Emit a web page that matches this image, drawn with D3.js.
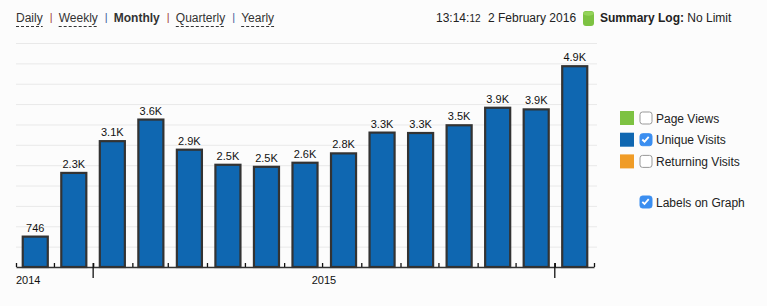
<!DOCTYPE html>
<html>
<head>
<meta charset="utf-8">
<script src="https://cdn.jsdelivr.net/npm/d3@7"></script>
<style>
  body { margin: 0; background: #fcfcfc; }
  svg { display: block; font-family: "Liberation Sans", Arial, sans-serif; }
</style>
</head>
<body>
<div id="chart"></div>
<script>
// monthly unique visits, Nov 2014 .. Jan 2016
const months = ["2014-11", "2014-12", "2015-01", "2015-02", "2015-03", "2015-04", "2015-05", "2015-06",
                "2015-07", "2015-08", "2015-09", "2015-10", "2015-11", "2015-12", "2016-01"];
const visits = [746, 2310, 3090, 3620, 2880, 2510, 2460, 2560, 2790, 3300, 3290, 3480, 3910, 3870, 4930];
const periods = ["Daily", "Weekly", "Monthly", "Quarterly", "Yearly"];
const legendItems = ["Page Views", "Unique Visits", "Returning Visits"];
const legendColors = ["#7dc242", "#0f67b1", "#f09c27"];
const legendChecked = [false, true, false];

const W = 767, H = 306;
const svg = d3.select("#chart").append("svg").attr("width", W).attr("height", H);

const parse = d3.timeParse("%Y-%m");
const dates = months.map(parse);
const start = dates[0];
const end = d3.timeMonth.offset(dates[dates.length - 1], 1);

const x = d3.scaleTime().domain([start, end]).range([16, 594]);
const xb = d3.scaleBand().domain(months).range([16, 594]).paddingInner(0.35).paddingOuter(0.175);
const y = d3.scaleLinear().domain([0, 5500]).range([267, 43]);

// gridlines
svg.append("g")
    .selectAll("line")
    .data(d3.range(500, 5501, 500))
    .join("line")
    .attr("x1", 16).attr("x2", 597)
    .attr("y1", d => y(d) + 0.5).attr("y2", d => y(d) + 0.5)
    .attr("stroke", "#e9e9e9");

// bars
svg.append("g")
    .selectAll("rect")
    .data(visits)
    .join("rect")
    .attr("x", (d, i) => xb(months[i]))
    .attr("width", xb.bandwidth())
    .attr("y", d => y(d))
    .attr("height", d => y(0) - y(d))
    .attr("fill", "#0f67b1")
    .attr("stroke", "#333")
    .attr("stroke-width", 2.2);

const fmt = v => v < 1000 ? String(v) : (v / 1000).toFixed(1) + "K";
svg.append("g")
    .selectAll("text")
    .data(visits)
    .join("text")
    .attr("x", (d, i) => xb(months[i]) + xb.bandwidth() / 2)
    .attr("y", d => y(d) - 5)
    .attr("text-anchor", "middle")
    .attr("font-size", 11)
    .attr("fill", "#111")
    .text(fmt);

// axis: month ticks upward, year ticks crossing
const axis = svg.append("g").attr("transform", "translate(0,267)");
axis.call(d3.axisBottom(x).ticks(d3.timeMonth.every(1)).tickSize(-4).tickFormat("").tickSizeOuter(0))
    .call(g => g.select(".domain").attr("stroke", "#333").attr("stroke-width", 1.5))
    .call(g => g.selectAll(".tick line").attr("stroke", "#111").attr("stroke-width", 1.3));
const years = d3.timeYear.range(start, end);
axis.append("g")
    .selectAll("line")
    .data(years)
    .join("line")
    .attr("x1", d => x(d)).attr("x2", d => x(d))
    .attr("y1", -4).attr("y2", 11)
    .attr("stroke", "#111").attr("stroke-width", 1.3);
const yearSpans = [start].concat(years).map((d, i, a) => {
    const next = i < a.length - 1 ? a[i + 1] : end;
    return { d, x0: x(d), x1: x(next), span: d3.timeMonth.count(d, next) };
}).filter(s => s.span >= 2);
axis.append("g")
    .selectAll("text")
    .data(yearSpans)
    .join("text")
    .attr("x", (s, i) => i === 0 ? s.x0 : (s.x0 + s.x1) / 2)
    .attr("y", 17)
    .attr("text-anchor", (s, i) => i === 0 ? "start" : "middle")
    .attr("font-size", 11)
    .attr("fill", "#111")
    .text(s => d3.timeFormat("%Y")(s.d));

// header: period links
const nav = svg.append("g").attr("font-size", 12).attr("fill", "#333");
let cx = 16;
periods.forEach((p, i) => {
    const t = nav.append("text").attr("x", cx).attr("y", 22).text(p);
    if (p === "Monthly") t.attr("font-weight", "bold");
    const w = t.node().getComputedTextLength();
    if (p !== "Monthly") {
        nav.append("line")
            .attr("x1", cx).attr("x2", cx + w)
            .attr("y1", 26.5).attr("y2", 26.5)
            .attr("stroke", "#333").attr("stroke-dasharray", "3,2");
    }
    cx += w;
    if (i < periods.length - 1) {
        nav.append("text").attr("x", cx + 7).attr("y", 21).attr("font-size", 11)
            .attr("fill", i % 2 ? "#3a5a9a" : "#a04040").text("|");
        cx += 16;
    }
});

// header: time and summary
const info = svg.append("g").attr("fill", "#222").attr("font-size", 12);
const clock = info.append("text").attr("x", 436).attr("y", 22);
clock.append("tspan").text("13:14:");
clock.append("tspan").attr("font-size", 10).text("12");
info.append("text").attr("x", 488).attr("y", 22).text("2 February 2016");
const cyl = svg.append("g").attr("transform", "translate(583,11)");
cyl.append("rect").attr("width", 11).attr("height", 15).attr("rx", 3).attr("fill", "#7dc242");
cyl.append("ellipse").attr("cx", 5.5).attr("cy", 2.5).attr("rx", 5.5).attr("ry", 2.2).attr("fill", "#94d35a");
const sum = info.append("text").attr("x", 600).attr("y", 22);
sum.append("tspan").attr("font-weight", "bold").text("Summary Log:");
sum.append("tspan").text(" No Limit");

// legend
const leg = svg.append("g").attr("font-size", 12).attr("fill", "#222");
const check = "M2.8,6.3 L5,8.5 L9.2,3.6";
function box(g, checked) {
    g.append("rect").attr("x", 0.5).attr("y", 0.5).attr("width", 12).attr("height", 12).attr("rx", 2.5)
        .attr("fill", checked ? "#3b8ef0" : "#fff")
        .attr("stroke", checked ? "#3b8ef0" : "#999");
    if (checked) {
        g.append("path").attr("d", check).attr("fill", "none")
            .attr("stroke", "#fff").attr("stroke-width", 1.8);
    }
}
legendItems.forEach((name, i) => {
    const yy = 111 + i * 21.7;
    leg.append("rect").attr("x", 620).attr("y", yy).attr("width", 14).attr("height", 14)
        .attr("fill", legendColors[i]);
    box(leg.append("g").attr("transform", `translate(639.5,${yy + 0.5})`), legendChecked[i]);
    leg.append("text").attr("x", 656).attr("y", yy + 11.5).text(name);
});
box(leg.append("g").attr("transform", "translate(639.5,195.5)"), true);
leg.append("text").attr("x", 656).attr("y", 207).text("Labels on Graph");
</script>
</body>
</html>
